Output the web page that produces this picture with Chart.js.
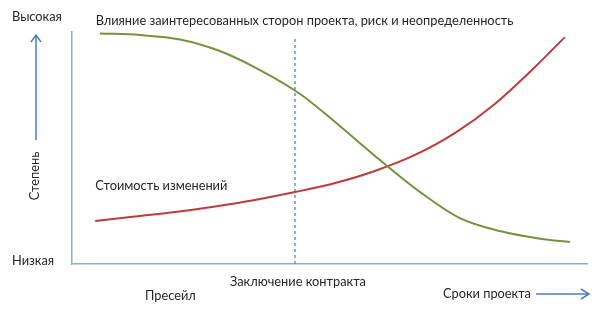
<!DOCTYPE html>
<html><head><meta charset="utf-8">
<script src="https://cdn.jsdelivr.net/npm/chart.js@4/dist/chart.umd.min.js"></script>
<style>html,body{margin:0;padding:0;background:#fff}#wrap{width:600px;height:316px;position:relative}</style>
</head><body><div id="wrap"><canvas id="c" width="600" height="316"></canvas></div>
<script>
// Influence of stakeholders, risk and uncertainty (green)
const influenceX = [5.4, 13.2, 21.0, 28.7, 36.5, 44.3, 52.0, 59.8, 67.6, 75.3, 83.1, 90.9, 96.7];
const influenceY = [99.4, 98.7, 96.8, 91.8, 83.6, 73.3, 59.5, 44.8, 31.0, 19.8, 14.2, 10.9, 9.5];
// Cost of changes (red)
const costX = [4.5, 12.2, 20.0, 27.8, 35.5, 43.3, 51.1, 58.8, 66.6, 74.4, 82.1, 89.9, 95.7];
const costY = [18.5, 20.5, 22.4, 24.8, 27.6, 31.0, 34.9, 40.1, 47.0, 56.5, 69.0, 84.9, 97.8];
// Contract signing milestone
const contractX = 43.3;
const contractTop = 97.4;

const titleText = "Влияние заинтересованных сторон проекта, риск и неопределенность";
const costText = "Стоимость изменений";
const highText = "Высокая";
const lowText = "Низкая";
const degreeText = "Степень";
const contractText = "Заключение контракта";
const presaleText = "Пресейл";
const termsText = "Сроки проекта";

const toPts = (xs, ys) => xs.map((x, i) => ({x, y: ys[i]}));
const FONT = '12.8px Lato, "Open Sans", sans-serif';
const TXT = '#262626';
const ARROW = '#4f7ec0';

const labelsPlugin = {
  id: 'labels',
  afterDraw(chart) {
    const {ctx, scales: {x}} = chart;
    ctx.save();
    ctx.font = FONT;
    ctx.fillStyle = TXT;
    ctx.textBaseline = 'middle';
    ctx.textAlign = 'left';
    ctx.fillText(highText, 12, 17);
    ctx.fillText(lowText, 12, 261);
    ctx.fillText(titleText, x.getPixelForValue(4.6), 21);
    ctx.fillText(costText, x.getPixelForValue(4.5), 186);
    ctx.fillText(contractText, 230, 282);
    ctx.fillText(presaleText, 145, 296);
    ctx.fillText(termsText, 443, 294);
    ctx.save();
    ctx.translate(35, 176);
    ctx.rotate(-Math.PI / 2);
    ctx.textAlign = 'center';
    ctx.fillText(degreeText, 0, 0);
    ctx.restore();
    // arrows
    ctx.strokeStyle = ARROW;
    ctx.lineWidth = 1.5;
    ctx.beginPath();
    ctx.moveTo(36, 140); ctx.lineTo(36, 35);
    ctx.moveTo(31, 42); ctx.lineTo(36, 35); ctx.lineTo(41, 42);
    ctx.moveTo(536, 294); ctx.lineTo(589, 294);
    ctx.moveTo(581, 289); ctx.lineTo(589, 294); ctx.lineTo(581, 299);
    ctx.stroke();
    ctx.restore();
  }
};

new Chart(document.getElementById('c'), {
  type: 'scatter',
  data: {
    datasets: [
      {data: toPts(influenceX, influenceY), showLine: true, borderColor: '#76923c', borderWidth: 2, pointRadius: 0, cubicInterpolationMode: 'monotone'},
      {data: toPts(costX, costY), showLine: true, borderColor: '#be3b3b', borderWidth: 2, pointRadius: 0, cubicInterpolationMode: 'monotone'},
      {data: [{x: contractX, y: 0}, {x: contractX, y: contractTop}], showLine: true, borderColor: '#6f93c6', borderWidth: 1.5, borderDash: [3, 3], pointRadius: 0}
    ]
  },
  options: {
    responsive: false,
    animation: false,
    events: [],
    layout: {padding: {left: 72, right: 13, top: 32, bottom: 52}},
    plugins: {legend: {display: false}, tooltip: {enabled: false}},
    scales: {
      x: {type: 'linear', min: 0, max: 100, ticks: {display: false}, grid: {display: false, drawTicks: false}, border: {display: true, color: '#8eaadb', width: 1.5}},
      y: {type: 'linear', min: 0, max: 100, ticks: {display: false}, grid: {display: false, drawTicks: false}, border: {display: true, color: '#8eaadb', width: 1.5}}
    }
  },
  plugins: [labelsPlugin]
});
</script></body></html>
